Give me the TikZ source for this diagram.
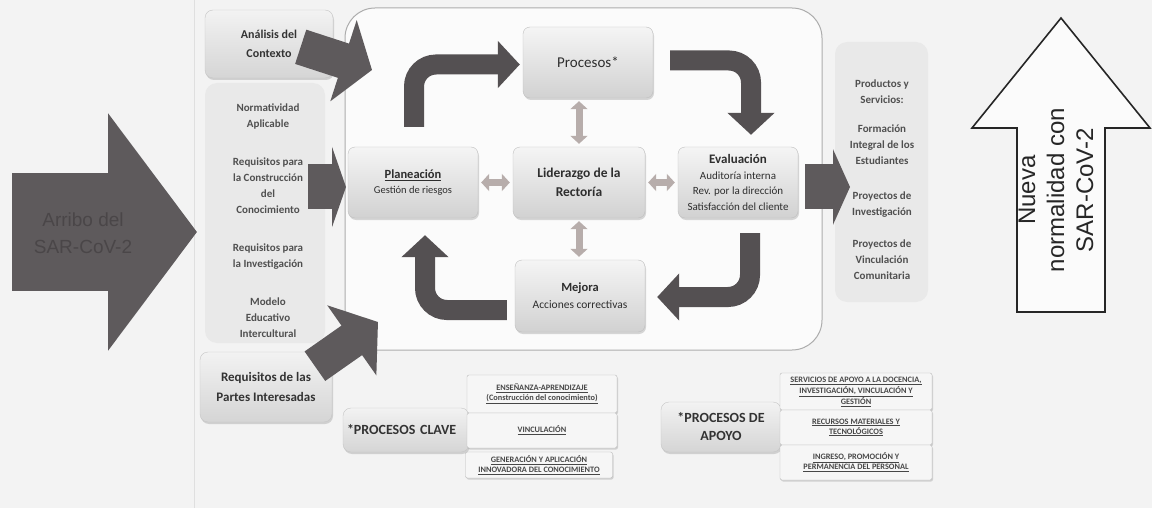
\documentclass[tikz,border=0pt]{standalone}
\usepackage{fontspec}
\setmainfont{Carlito}
\newfontfamily\arialf{Liberation Sans}
\usetikzlibrary{arrows.meta,shadows,calc}
\definecolor{bg}{HTML}{F3F3F3}
\definecolor{darkarr}{HTML}{5E5A5C}
\definecolor{threattxt}{HTML}{4A4648}
\definecolor{bentarr}{HTML}{545052}
\definecolor{lightbox}{HTML}{E9E9E9}
\definecolor{txtgray}{HTML}{505050}
\definecolor{dblc}{HTML}{B7ADAB}
\newcommand\fsz[2]{\fontsize{#1}{#2}\selectfont}
\begin{document}
\begin{tikzpicture}[x=1pt,y=-1pt,
  cyc/.style={draw=gray!50, rounded corners=7pt, top color=gray!8, bottom color=gray!36,
    drop shadow={opacity=0.3,shadow xshift=1pt,shadow yshift=-2pt},
    align=center, text=black!82, inner sep=2pt},
  sidebox/.style={draw=gray!45, rounded corners=8pt, top color=gray!10, bottom color=gray!33,
    drop shadow={opacity=0.3,shadow xshift=1pt,shadow yshift=-2pt},
    align=center, text=black!80, inner sep=2pt, font=\bfseries},
  lbox/.style={fill=lightbox, rounded corners=12pt, inner sep=0pt},
  ltext/.style={align=center, text=txtgray, font=\bfseries\fsz{11}{16}},
  stk/.style={draw=gray!55, fill=gray!7, rounded corners=2pt, align=center, text=black!72,
    font=\bfseries\fsz{8.3}{10}, inner sep=1pt,
    drop shadow={opacity=0.3,shadow xshift=1pt,shadow yshift=-1.5pt}},
  bent/.style={draw=bentarr, line width=20pt, rounded corners=22pt, -{Triangle[length=22pt,width=46pt]}},
  dbl/.style={draw=dblc, line width=7pt, shorten <=3pt, shorten >=3pt,
    {Triangle[length=8pt,width=17pt]}-{Triangle[length=8pt,width=17pt]}}
]
\useasboundingbox (0,0) rectangle (1152,508);
\fill[bg] (0,0) rectangle (1152,508);
\draw[gray!25, line width=1pt] (194,0) -- (194,508);

% big input arrow
\coordinate (srcA) at (12,232);
\coordinate (srcB) at (197,232);
\draw[darkarr, line width=117pt, -{Triangle[length=89pt,width=233pt]}] (srcA) -- (srcB);
\node[align=center, text=threattxt, font=\arialf\fsz{19}{27}] (threat) at (83,233) {Arribo del\\SAR-CoV-2};

% container
\node[draw=gray!65, line width=1pt, rounded corners=30pt, fill=white!97!gray,
  minimum width=477pt, minimum height=342pt, inner sep=0pt] (cont) at (583.5,179) {};

% left side boxes
\node[sidebox, minimum width=128pt, minimum height=68pt, font=\bfseries\fsz{12}{19}] (ctx) at (269,44) {Análisis del\\Contexto};
\node[lbox, minimum width=120pt, minimum height=260pt] (norm) at (265,213) {};
\node[ltext] (n1) at (268,116) {Normatividad\\Aplicable};
\node[ltext] (n2) at (268,186) {Requisitos para\\la Construcción\\del\\Conocimiento};
\node[ltext] (n3) at (268,256.5) {Requisitos para\\la Investigación};
\node[ltext] (n4) at (268,318) {Modelo\\Educativo\\Intercultural};
\node[sidebox, minimum width=132pt, minimum height=70pt, font=\bfseries\fsz{13}{20}] (partes) at (266,387) {Requisitos de las\\Partes Interesadas};

% cycle boxes
\node[cyc, minimum width=130pt, minimum height=71pt, font=\fsz{15}{18}] (proc) at (588,62.5) {Procesos*};
\node[cyc, minimum width=130pt, minimum height=71pt, font=\fsz{10.5}{15}] (plan) at (413,182.5) {{\bfseries\fsz{12.5}{16}\underline{Planeación}}\\Gestión de riesgos};
\node[cyc, minimum width=132pt, minimum height=71pt, font=\bfseries\fsz{13.5}{19}] (lid) at (579,182.5) {Liderazgo de la\\Rectoría};
\node[cyc, minimum width=120pt, minimum height=71pt, font=\fsz{11}{15.5}] (eval) at (738,182.5) {{\bfseries\fsz{13}{16}Evaluación}\\Auditoría interna\\Rev. por la dirección\\Satisfacción del cliente};
\node[cyc, minimum width=130pt, minimum height=72pt, font=\fsz{11.5}{17}] (mej) at (580,296) {{\bfseries\fsz{12.5}{17}Mejora}\\Acciones correctivas};

% products box
\node[lbox, minimum width=93pt, minimum height=260pt] (prod) at (881.5,172) {};
\node[ltext] (p1) at (882,91.5) {Productos y\\Servicios:};
\node[ltext] (p2) at (882,145) {Formación\\Integral de los\\Estudiantes};
\node[ltext] (p3) at (882,204.5) {Proyectos de\\Investigación};
\node[ltext] (p4) at (882,260) {Proyectos de\\Vinculación\\Comunitaria};

% fat input arrows
\coordinate (ctxA) at (300.7,46.8);
\coordinate (ctxB) at (372,70);
\draw[darkarr, line width=36pt, -{Triangle[length=30pt,width=84pt]}] (ctxA) -- (ctxB);
\coordinate (normA) at (308,187);
\coordinate (normB) at (346,187);
\draw[darkarr, line width=45pt, -{Triangle[length=14pt,width=80pt]}] (normA) -- (normB);
\coordinate (partA) at (314.9,366.2);
\coordinate (partB) at (378,322);
\draw[darkarr, line width=36pt, -{Triangle[length=32pt,width=84pt]}] (partA) -- (partB);
\coordinate (outA) at (805,187);
\coordinate (outB) at (850,187);
\draw[darkarr, line width=45pt, -{Triangle[length=17pt,width=75pt]}] (outA) -- (outB);

% cycle arrows
\draw[bent] ($(plan.north)+(1,-20)$) |- ($(proc.west)+(-3,2)$);
\draw[bent] ($(proc.east)+(17,-2)$) -| ($(eval.north)+(13,-12)$);
\draw[bent] ($(eval.south)+(12,15)$) |- ($(mej.east)+(12,1)$);
\draw[bent] ($(mej.west)+(-8,14)$) -| ($(plan.south)+(12,17)$);

% leadership links
\draw[dbl] (lid.north) -- (lid.north |- proc.south);
\draw[dbl] (lid.south) -- (lid.south |- mej.north);
\draw[dbl] (lid.west) -- (lid.west -| plan.east);
\draw[dbl] (lid.east) -- (lid.east -| eval.west);

% output: new normality
\draw[line width=1.6pt, draw=black!85, fill=white!97!gray] (1017,312) -- (1017,128) -- (972,128) -- (1061,18) -- (1150,128) -- (1105,128) -- (1105,312) -- cycle;
\node[rotate=90, align=center, text=black!85, font=\arialf\fsz{24}{29}] (nueva) at (1056,190) {Nueva\\normalidad con\\SAR-CoV-2};

% key processes
\node[sidebox, minimum width=126pt, minimum height=44pt, font=\bfseries\fsz{14}{17}, text width=118pt, align=left] (clave) at (406,430) {*PROCESOS CLAVE};
\node[stk, minimum width=150pt, minimum height=38pt] (k1) at (542,394) {\underline{ENSEÑANZA-APRENDIZAJE}\\\underline{(Construcción del conocimiento)}};
\node[stk, minimum width=150pt, minimum height=35pt] (k2) at (542,430.5) {\underline{VINCULACIÓN}};
\node[stk, minimum width=147pt, minimum height=26pt] (k3) at (539,465) {\underline{GENERACIÓN Y APLICACIÓN}\\\underline{INNOVADORA DEL CONOCIMIENTO}};

% support processes
\node[sidebox, minimum width=120pt, minimum height=50pt, font=\bfseries\fsz{14}{18}] (apoyo) at (721,427) {*PROCESOS DE\\APOYO};
\node[stk, minimum width=152pt, minimum height=37pt] (a1) at (856,391.5) {\underline{SERVICIOS DE APOYO A LA DOCENCIA,}\\\underline{INVESTIGACIÓN, VINCULACIÓN Y}\\\underline{GESTIÓN}};
\node[stk, minimum width=152pt, minimum height=35pt] (a2) at (856,427.5) {\underline{RECURSOS MATERIALES Y}\\\underline{TECNOLÓGICOS}};
\node[stk, minimum width=152pt, minimum height=35pt] (a3) at (856,462.5) {\underline{INGRESO, PROMOCIÓN Y}\\\underline{PERMANENCIA DEL PERSONAL}};
\end{tikzpicture}
\end{document}
